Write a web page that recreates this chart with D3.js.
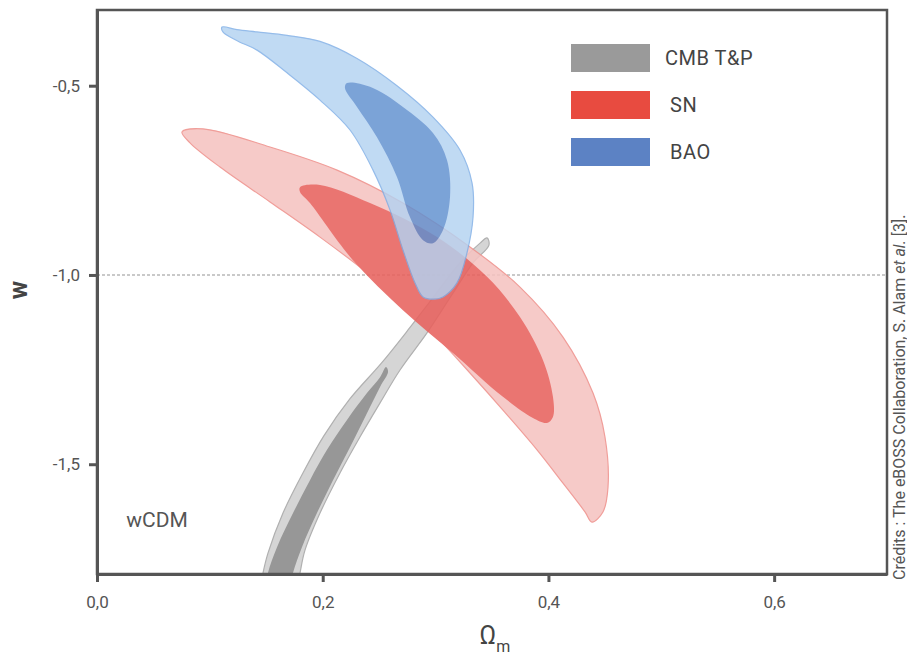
<!DOCTYPE html>
<html>
<head>
<meta charset="utf-8">
<script src="https://cdn.jsdelivr.net/npm/d3@7"></script>
<style>
  body { margin: 0; background: #fff; }
  text { font-family: Roboto, "Noto Sans", sans-serif; }
</style>
</head>
<body>
<script>
var width = 907;
var height = 658;

var margin = { top: 10, left: 97, right: 20, bottom: 84 };

// contour outlines, as [Omega_m, w] pairs
var baoOuter = [[0.1108, -0.345], [0.1240, -0.352], [0.1418, -0.358], [0.1684, -0.367], [0.1976, -0.383],
    [0.2304, -0.428], [0.2658, -0.500], [0.2977, -0.583], [0.3216, -0.670], [0.3323, -0.757],
    [0.3332, -0.847], [0.3278, -0.942], [0.3190, -1.021], [0.3066, -1.058], [0.2977, -1.064],
    [0.2889, -1.058], [0.2818, -1.021], [0.2711, -0.934], [0.2596, -0.828], [0.2446, -0.723],
    [0.2242, -0.617], [0.1976, -0.538], [0.1684, -0.466], [0.1418, -0.406], [0.1267, -0.385],
    [0.1196, -0.374], [0.1116, -0.358]];
var baoInner = [[0.2215, -0.493], [0.2419, -0.503], [0.2711, -0.556], [0.2977, -0.625], [0.3101, -0.696],
    [0.3128, -0.794], [0.3066, -0.881], [0.2977, -0.916], [0.2889, -0.908], [0.2773, -0.847],
    [0.2658, -0.741], [0.2481, -0.636], [0.2304, -0.556], [0.2197, -0.506]];
var snOuter = [[0.0753, -0.622], [0.0939, -0.614], [0.1533, -0.662], [0.2127, -0.723], [0.2711, -0.810],
    [0.3305, -0.926], [0.3748, -1.032], [0.4129, -1.164], [0.4395, -1.312], [0.4501, -1.428],
    [0.4528, -1.560], [0.4483, -1.626], [0.4386, -1.653], [0.4324, -1.626], [0.4129, -1.550],
    [0.3899, -1.462], [0.3597, -1.357], [0.3305, -1.259], [0.3013, -1.164], [0.2711, -1.074],
    [0.2419, -1.000], [0.1976, -0.900], [0.1533, -0.807], [0.1090, -0.715], [0.0824, -0.651]];
var snInner = [[0.1799, -0.768], [0.1976, -0.762], [0.2419, -0.810], [0.3013, -0.900], [0.3456, -1.005],
    [0.3748, -1.111], [0.3952, -1.225], [0.4040, -1.322], [0.4040, -1.375], [0.3987, -1.391],
    [0.3863, -1.378], [0.3597, -1.322], [0.3154, -1.206], [0.2711, -1.093], [0.2268, -0.961],
    [0.1887, -0.810], [0.1799, -0.781]];
var cmbOuter = [[0.3456, -0.902], [0.3473, -0.921], [0.3332, -0.968], [0.3154, -1.048], [0.2924, -1.153],
    [0.2685, -1.251], [0.2508, -1.338], [0.2330, -1.428], [0.2153, -1.523], [0.1976, -1.629],
    [0.1843, -1.727], [0.1799, -1.787], [0.1763, -1.846], [0.1435, -1.846], [0.1471, -1.787],
    [0.1515, -1.735], [0.1648, -1.629], [0.1825, -1.523], [0.2010, -1.425], [0.2242, -1.327],
    [0.2520, -1.233], [0.2770, -1.140], [0.2990, -1.055], [0.3216, -0.968],
    [0.3394, -0.916]];
var cmbInner = [[0.2561, -1.243], [0.2579, -1.256], [0.2508, -1.296], [0.2392, -1.365], [0.2242, -1.455],
    [0.2091, -1.542], [0.1949, -1.629], [0.1816, -1.719], [0.1737, -1.787], [0.1701, -1.846],
    [0.1489, -1.846], [0.1515, -1.787], [0.1595, -1.719], [0.1737, -1.629], [0.1887, -1.542],
    [0.2038, -1.462], [0.2215, -1.383], [0.2392, -1.312], [0.2508, -1.270]];

var legendNames = ['CMB T&P', 'SN', 'BAO'];
var legendColors = ['#9a9a9a', '#e84b40', '#5c82c4'];

var xTicks = [0, 0.2, 0.4, 0.6];
var yTicks = [-0.5, -1.0, -1.5];
var wRef = -1.0;

var innerWidth = width - margin.left - margin.right;
var innerHeight = height - margin.top - margin.bottom;

var loc = d3.formatLocale({ decimal: ',', thousands: ' ', grouping: [3], currency: ['', '€'], minus: '-' });
var fmt = loc.format('.1f');

var svg = d3.select('body').append('svg')
    .attr('width', width)
    .attr('height', height);

var x = d3.scaleLinear()
    .domain([0, 0.7])
    .range([0, innerWidth]);

var y = d3.scaleLinear()
    .domain([-1.79, -0.3])
    .range([innerHeight, 0]);

svg.append('defs').append('clipPath')
    .attr('id', 'plotclip')
    .append('rect')
    .attr('width', innerWidth)
    .attr('height', innerHeight);

var g = svg.append('g')
    .attr('transform', 'translate(' + margin.left + ',' + margin.top + ')');

var plot = g.append('g').attr('clip-path', 'url(#plotclip)');

var shape = d3.line()
    .x(function (d) { return x(d[0]); })
    .y(function (d) { return y(d[1]); })
    .curve(d3.curveCatmullRomClosed.alpha(0.5));

// reference line w = -1
plot.append('line')
    .attr('x1', 0)
    .attr('x2', innerWidth)
    .attr('y1', y(wRef))
    .attr('y2', y(wRef))
    .style('stroke', '#b8b8b8')
    .style('stroke-width', 1.5)
    .style('stroke-dasharray', '3,2');

plot.append('path').attr('d', shape(cmbOuter))
    .style('fill', '#d5d5d5').style('stroke', '#b0b0b0').style('stroke-width', 1.2);
plot.append('path').attr('d', shape(cmbInner))
    .style('fill', '#979797');

var sn = plot.append('g').style('opacity', 0.88);
sn.append('path').attr('d', shape(snOuter))
    .style('fill', '#f5c3c1').style('stroke', '#ef918c').style('stroke-width', 1.2);
sn.append('path').attr('d', shape(snInner))
    .style('fill', '#e8625e');

var bao = plot.append('g').style('opacity', 0.82);
bao.append('path').attr('d', shape(baoOuter))
    .style('fill', '#b3d2f1').style('stroke', '#7eaee6').style('stroke-width', 1.2);
bao.append('path').attr('d', shape(baoInner))
    .style('fill', '#5f8fcf');

// frame
g.append('rect')
    .attr('width', innerWidth)
    .attr('height', innerHeight)
    .style('fill', 'none')
    .style('stroke', '#555')
    .style('stroke-width', 2.5);

var xaxis = d3.axisBottom(x).tickValues(xTicks).tickFormat(fmt).tickSize(8).tickSizeOuter(0).tickPadding(14);
var gx = g.append('g')
    .attr('transform', 'translate(0,' + innerHeight + ')')
    .call(xaxis);

var yaxis = d3.axisLeft(y).tickValues(yTicks).tickFormat(fmt).tickSize(8).tickSizeOuter(0).tickPadding(9);
var gy = g.append('g').call(yaxis);

[gx, gy].forEach(function (a) {
    a.select('.domain').style('stroke', '#555').style('stroke-width', 3);
    a.selectAll('.tick line').style('stroke', '#555').style('stroke-width', 3);
    a.selectAll('.tick text')
        .style('font-family', 'Roboto, sans-serif')
        .style('font-size', '17px')
        .style('fill', '#555');
});

// axis titles
svg.append('text')
    .attr('transform', 'translate(27,' + (margin.top + y(-1.04)) + ') rotate(-90)')
    .attr('text-anchor', 'middle')
    .style('font-size', '25px')
    .style('font-weight', 'bold')
    .style('fill', '#444')
    .text('w');

var xt = svg.append('text')
    .attr('x', margin.left + x(0.3525))
    .attr('y', 644)
    .attr('text-anchor', 'middle')
    .style('fill', '#444');
xt.append('tspan').style('font-size', '25px').text('Ω');
xt.append('tspan').attr('dy', 8).style('font-size', '16px').text('m');

// model label
g.append('text')
    .attr('x', x(0.026))
    .attr('y', y(-1.665))
    .style('font-size', '21px')
    .style('fill', '#555')
    .text('wCDM');

// legend
var legend = g.selectAll('.legend')
    .data(legendNames)
    .join('g')
    .attr('class', 'legend')
    .attr('transform', function (d, i) {
        return 'translate(' + (x(0.42)) + ',' + (34 + i * 47) + ')';
    });

legend.append('rect')
    .attr('width', 79)
    .attr('height', 28)
    .style('fill', function (d, i) { return legendColors[i]; });

legend.append('text')
    .attr('x', function (d, i) { return i === 0 ? 94 : 99; })
    .attr('y', 14)
    .attr('dy', '0.36em')
    .style('font-size', '20px')
    .style('letter-spacing', '0.5px')
    .style('fill', '#444')
    .text(function (d) { return d; });

// credits
var cr = svg.append('text')
    .attr('transform', 'translate(905,580) rotate(-90)')
    .style('font-size', '16px')
    .style('fill', '#555');
cr.append('tspan').text('Crédits : The eBOSS Collaboration, S. Alam ');
cr.append('tspan').style('font-style', 'italic').text('et al.');
cr.append('tspan').text(' [3].');
</script>
</body>
</html>
